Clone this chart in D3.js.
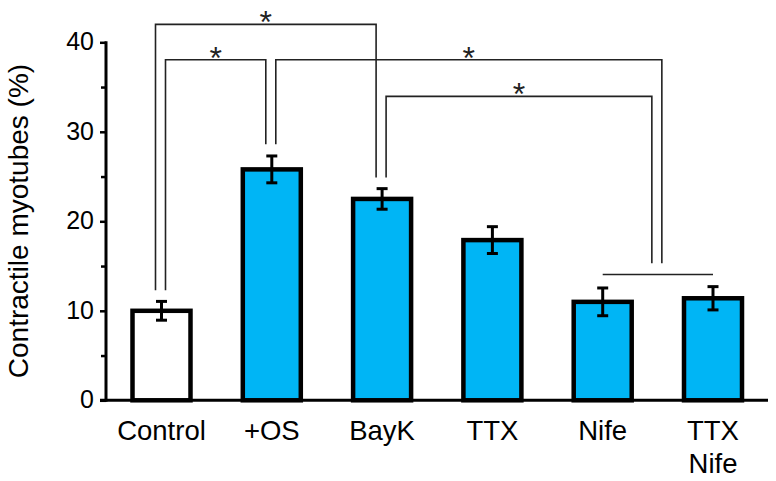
<!DOCTYPE html>
<html>
<head>
<meta charset="utf-8">
<script src="https://cdn.jsdelivr.net/npm/d3@7"></script>
<style>
  html, body { margin: 0; padding: 0; background: #fff; }
  svg { display: block; font-family: "Liberation Sans", Arial, Helvetica, sans-serif; }
</style>
</head>
<body>
<svg id="chart" width="776" height="481"></svg>
<script>
// ---- data ----
const categories = ["Control", "+OS", "BayK", "TTX", "Nife", "TTX\nNife"];
const values     = [10.0, 25.8, 22.5, 17.9, 11.0, 11.4];
const errors     = [1.05, 1.5, 1.15, 1.5, 1.55, 1.3];
const fills      = ["#ffffff", "#00b5f5", "#00b5f5", "#00b5f5", "#00b5f5", "#00b5f5"];
const yTicks     = [0, 10, 20, 30, 40];
const yMinorTicks = [5, 15, 25, 35];
const yLabel = "Contractile myotubes (%)";

// significance endpoints: single bars or a group of bars (joined by a line)
const endpoints   = ["Control", "+OS", "BayK", "NifeGroup"];
const endpointBars = [["Control"], ["+OS"], ["BayK"], ["Nife", "TTX\nNife"]];
const endpointLegEnd = [12.3, 28.6, 24.9, 15.3];   // value where legs stop
const groupLineLevel = [null, null, null, 14.05];  // value of the joining line
// brackets: [from endpoint, to endpoint, level value, label]
const brackets = [
  ["Control", "BayK", 42.0, "*"],
  ["Control", "+OS", 38.05, "*"],
  ["+OS", "NifeGroup", 38.05, "*"],
  ["BayK", "NifeGroup", 33.96, "*"]
];

// ---- layout ----
const svg = d3.select("#chart");
const y = d3.scaleLinear().domain([0, 40]).range([400.3, 42.3]);
const x = d3.scalePoint().domain(categories).range([161.5, 713]);
const barW = 58;
const axisX = 106;

// bars
svg.append("g").selectAll("rect").data(categories).join("rect")
  .attr("x", d => x(d) - barW / 2)
  .attr("y", (d, i) => y(values[i]))
  .attr("width", barW)
  .attr("height", (d, i) => y(0) - y(values[i]))
  .attr("fill", (d, i) => fills[i])
  .attr("stroke", "#000")
  .attr("stroke-width", 4.5);

// error bars
const eg = svg.append("g").attr("stroke", "#000").attr("stroke-width", 3);
categories.forEach((c, i) => {
  const cx = x(c), top = y(values[i] + errors[i]), bot = y(values[i] - errors[i]);
  eg.append("line").attr("x1", cx).attr("x2", cx).attr("y1", top).attr("y2", bot);
  eg.append("line").attr("x1", cx - 5.5).attr("x2", cx + 5.5).attr("y1", top).attr("y2", top);
  eg.append("line").attr("x1", cx - 5.5).attr("x2", cx + 5.5).attr("y1", bot).attr("y2", bot);
});

// axes
const yAxis = d3.axisLeft(y).tickValues(yTicks).tickSize(6).tickPadding(6).tickFormat(d3.format("d"));
const yg = svg.append("g").attr("transform", `translate(${axisX},0)`).call(yAxis);
yg.select(".domain").remove();
yg.selectAll(".tick line").attr("stroke", "#000").attr("stroke-width", 2.5);
yg.selectAll(".tick text").attr("font-size", 25).attr("fill", "#000")
  .attr("font-family", "'Liberation Sans', Arial, sans-serif").attr("dy", "0.3em");
const ym = svg.append("g").attr("transform", `translate(${axisX},0)`)
  .call(d3.axisLeft(y).tickValues(yMinorTicks).tickSize(5).tickFormat(""));
ym.select(".domain").remove();
ym.selectAll(".tick line").attr("stroke", "#000").attr("stroke-width", 2.5);

svg.append("line").attr("x1", axisX).attr("x2", axisX).attr("y1", y(40) - 1).attr("y2", y(0) + 1.5)
  .attr("stroke", "#000").attr("stroke-width", 3);
svg.append("line").attr("x1", 100).attr("x2", 768).attr("y1", y(0)).attr("y2", y(0))
  .attr("stroke", "#000").attr("stroke-width", 3);

// x labels
const xl = svg.append("g").attr("font-size", 27.5).attr("text-anchor", "middle").attr("fill", "#000");
categories.forEach(c => {
  const lines = c.split("\n");
  const t = xl.append("text").attr("x", x(c)).attr("y", 440);
  lines.forEach((ln, k) => t.append("tspan").attr("x", x(c)).attr("dy", k === 0 ? 0 : 33).text(ln));
});

// y label
svg.append("text")
  .attr("transform", `translate(28,221) rotate(-90)`)
  .attr("text-anchor", "middle").attr("font-size", 28).attr("fill", "#000")
  .text(yLabel);

// ---- significance brackets ----
const epCenter = i => d3.mean(endpointBars[i], b => x(b));
// leg ordering per endpoint
const legX = {};
endpoints.forEach((ep, i) => {
  const rightEnds = brackets.filter(b => b[1] === ep).sort((a, b) => a[2] - b[2]);
  const leftEnds = brackets.filter(b => b[0] === ep).sort((a, b) => b[2] - a[2]);
  const legs = rightEnds.map(b => [b, "to"]).concat(leftEnds.map(b => [b, "from"]));
  const n = legs.length, c = epCenter(i) - 1, gap = 10;
  legs.forEach(([b, side], k) => {
    legX[brackets.indexOf(b) + side] = c + (k - (n - 1) / 2) * gap;
  });
});
const bg = svg.append("g").attr("stroke", "#222").attr("stroke-width", 1.6).attr("fill", "none");
brackets.forEach((b, bi) => {
  const fi = endpoints.indexOf(b[0]), ti = endpoints.indexOf(b[1]);
  const x1 = legX[bi + "from"], x2 = legX[bi + "to"], ly = y(b[2]);
  bg.append("path").attr("d",
    `M${x1},${y(endpointLegEnd[fi])}V${ly}H${x2}V${y(endpointLegEnd[ti])}`);
  svg.append("text").attr("x", (x1 + x2) / 2).attr("y", ly + 9)
    .attr("text-anchor", "middle").attr("font-size", 32).attr("fill", "#222").text(b[3]);
});
endpoints.forEach((ep, i) => {
  if (groupLineLevel[i] == null) return;
  const xs = endpointBars[i].map(b => x(b));
  bg.append("line").attr("x1", d3.min(xs)).attr("x2", d3.max(xs))
    .attr("y1", y(groupLineLevel[i])).attr("y2", y(groupLineLevel[i]));
});
</script>
</body>
</html>
